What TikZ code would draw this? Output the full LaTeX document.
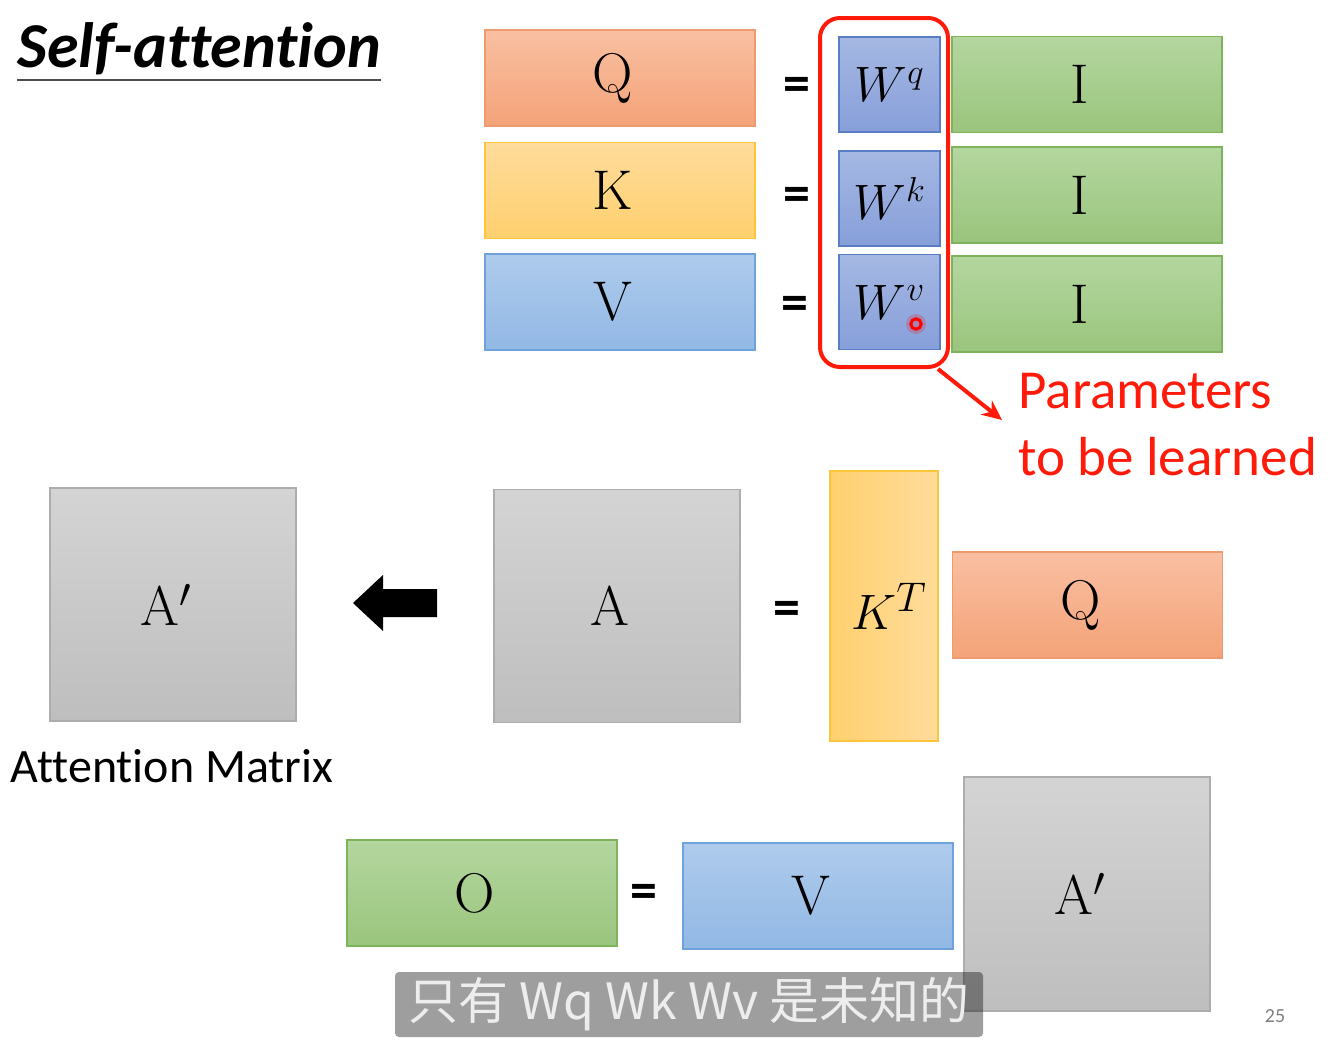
\documentclass[tikz,border=0pt]{standalone}
\usepackage{fontspec}
\setsansfont{Carlito}[Ligatures=NoCommon]
\newfontfamily\cjk{Noto Sans CJK SC}
\usetikzlibrary{arrows.meta}

\definecolor{qtop}{HTML}{F9BFA2}
\definecolor{qbot}{HTML}{F4A378}
\definecolor{qline}{HTML}{EE9A6C}
\definecolor{ktop}{HTML}{FFDC9C}
\definecolor{kbot}{HTML}{FFD06E}
\definecolor{kline}{HTML}{FFC53A}
\definecolor{vtop}{HTML}{AECBEC}
\definecolor{vbot}{HTML}{92B8E5}
\definecolor{vline}{HTML}{6FA2DA}
\definecolor{wtop}{HTML}{A5B8E3}
\definecolor{wbot}{HTML}{879FDA}
\definecolor{wline}{HTML}{5A7EC6}
\definecolor{itop}{HTML}{B4D69F}
\definecolor{ibot}{HTML}{9AC57D}
\definecolor{iline}{HTML}{7DB35A}
\definecolor{gtop}{HTML}{D4D4D4}
\definecolor{gbot}{HTML}{BEBEBE}
\definecolor{gline}{HTML}{ADADAD}
\definecolor{pred}{HTML}{FF1A0A}

\begin{document}
\begin{tikzpicture}[x=0.5pt,y=-0.5pt,>={Stealth[length=10pt,width=9pt]},
  mat/.style={line width=0.8pt,inner sep=0pt,font=\fontsize{28}{30}\selectfont},
  nudge/.style={execute at end node={\hspace{7pt}}},
  qmat/.style={mat,nudge,draw=qline,top color=qtop,bottom color=qbot},
  kmat/.style={mat,nudge,draw=kline,top color=ktop,bottom color=kbot},
  vmat/.style={mat,nudge,draw=vline,top color=vtop,bottom color=vbot},
  wmat/.style={mat,draw=wline,top color=wtop,bottom color=wbot,
    minimum width=50.5pt,minimum height=47.5pt,font=\fontsize{25}{27}\selectfont},
  imat/.style={mat,nudge,draw=iline,top color=itop,bottom color=ibot},
  gmat/.style={mat,nudge,draw=gline,top color=gtop,bottom color=gbot,
    minimum width=123pt,minimum height=116.5pt},
  wide/.style={minimum width=135pt,minimum height=48pt},
  tall/.style={minimum width=135pt,minimum height=53pt},
  eq/.style={inner sep=0pt,font=\sffamily\bfseries\fontsize{27}{27}\selectfont}]

  \useasboundingbox (0,0) rectangle (1330,1040);
  \fill[white] (0,0) rectangle (1330,1040);

  % title
  \node[anchor=base west,inner sep=0pt,
    font=\sffamily\bfseries\itshape\fontsize{32}{32}\selectfont] (title) at (17,67) {Self-attention};
  \draw[line width=1pt,black!70] ([yshift=-6.5pt]title.base west) -- ([yshift=-6.5pt]title.base east);

  % Q K V = W I
  \node[qmat,wide] (q) at (620,78) {Q};
  \node[kmat,wide] (k) at (620,190.5) {K};
  \node[vmat,wide] (v) at (620,302) {V};
  \node[eq] (eq1) at (797,89) {=};
  \node[eq] (eq2) at (797,199) {=};
  \node[eq] (eq3) at (795,308) {=};
  \node[wmat] (wq) at (889.5,84.5) {$W^q$};
  \node[wmat] (wk) at (889.5,198.5) {$W^k$};
  \node[wmat] (wv) at (889.5,302) {$W^v$};
  \node[imat,wide] (i1) at (1087,84.5) {I};
  \node[imat,wide] (i2) at (1087,195) {I};
  \node[imat,wide] (i3) at (1087,304) {I};

  % laser pointer
  \fill[red,opacity=0.2] (916,324) circle (5pt);
  \draw[red,line width=1.5pt] (916,324) circle (2.6pt);

  % parameters
  \node[draw=pred,line width=2pt,rounded corners=10pt,inner sep=0pt,
    minimum width=64pt,minimum height=174.5pt] (params) at (884,192.5) {};
  \coordinate (tip) at (1002,420);
  \draw[->,pred,line width=2pt] ([xshift=-6pt]params.south east) -- (tip);
  \node[anchor=north west,align=left,inner sep=0pt,text=pred,
    font=\sffamily\fontsize{27.5}{33.5}\selectfont] (lbl) at (1018,373) {Parameters\\to be learned};

  % A = K^T Q
  \node[gmat] (ap1) at (173,604.5) {A$'$};
  \node[font=\sffamily\fontsize{24}{24}\selectfont] (attn) at (172,766) {Attention Matrix};
  \fill (353,603) -- (383,575) -- (383,589) -- (437,589) -- (437,617)
    -- (383,617) -- (383,631) -- cycle;
  \node[gmat] (a) at (617,606) {A};
  \node[eq] (eq4) at (787,613) {=};
  \node[mat,draw=kline,left color=kbot,right color=ktop,
    minimum width=54pt,minimum height=135pt] (kt) at (884,606) {\hspace{5pt}$K^T$};
  \node[qmat,tall] (q2) at (1087.5,605) {Q};

  % O = V A'
  \node[imat,tall] (o) at (482,893) {O};
  \node[eq] (eq5) at (644,896) {=};
  \node[vmat,tall] (v2) at (818,896) {V};
  \node[gmat,minimum height=117pt] (ap2) at (1087,894) {A$'$};

  % subtitle
  \node[fill=black,fill opacity=0.38,text opacity=1,text=white!93!black,rounded corners=2pt,
    inner sep=0pt,minimum width=294pt,minimum height=32.5pt,
    font=\cjk\fontsize{25}{25}\selectfont] (sub) at (689,1004.5) {只有 Wq Wk Wv 是未知的};
  \node[text=black!50,font=\sffamily\fontsize{10}{10}\selectfont] (page) at (1275,1016) {25};

\end{tikzpicture}
\end{document}
